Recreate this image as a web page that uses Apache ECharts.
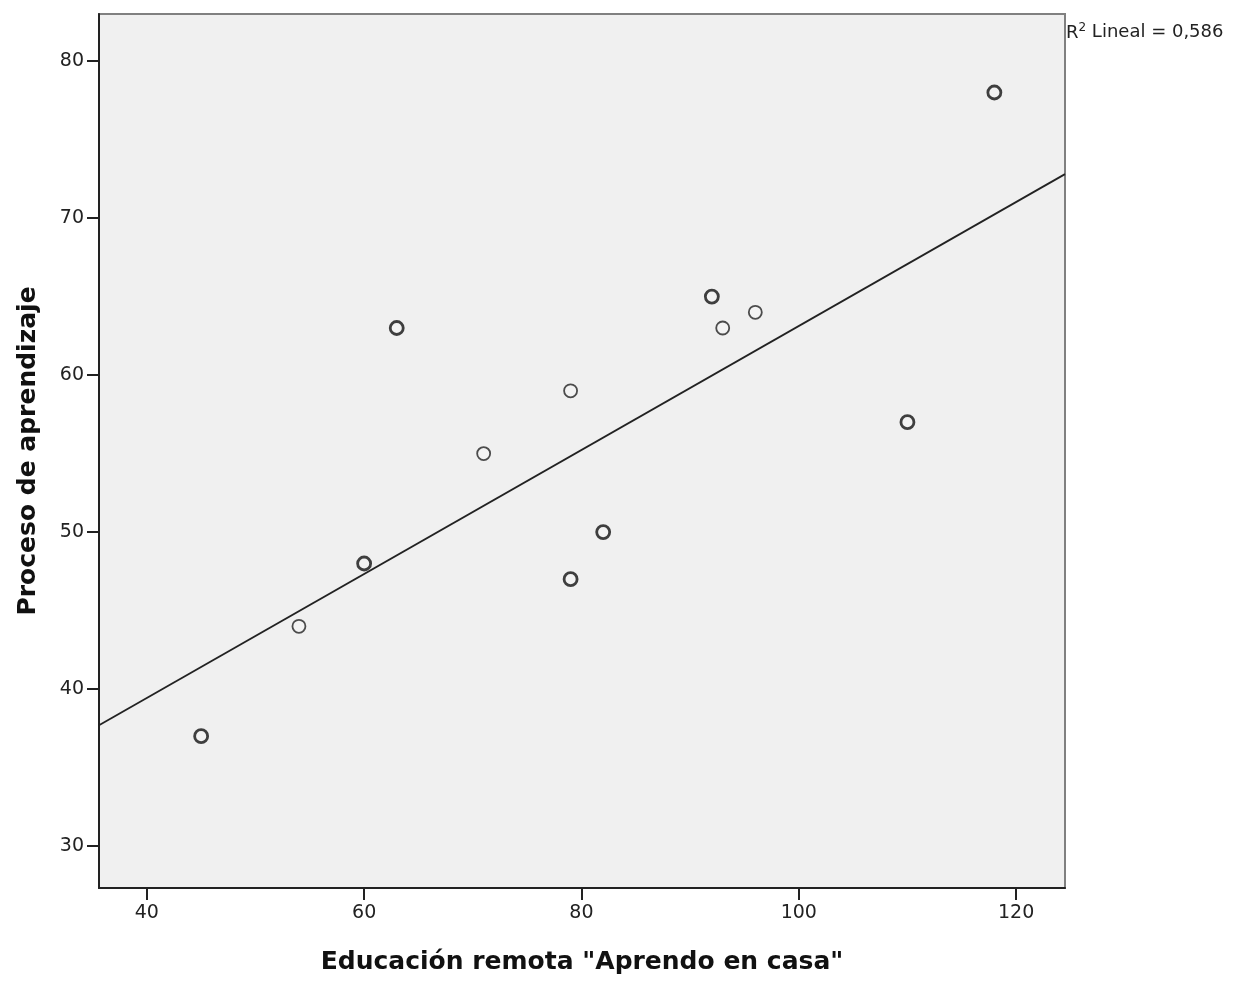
<!DOCTYPE html>
<html>
<head>
<meta charset="utf-8">
<script src="https://cdn.jsdelivr.net/npm/echarts@6/dist/echarts.min.js"></script>
<style>html,body{margin:0;padding:0;background:#fff}#c{width:1251px;height:985px}</style>
</head>
<body>
<div id="c"></div>
<script>
// Single observations
const singleX = [54, 71, 79, 93, 96];
const singleY = [44, 55, 59, 63, 64];
// Repeated observations (drawn with heavier outline)
const repeatX = [45, 60, 63, 79, 82, 92, 110, 118];
const repeatY = [37, 48, 63, 47, 50, 65, 57, 78];
// Fit line endpoints
const fitX = [35.6, 124.5];
const fitY = [37.7, 72.8];
const xTicks = [40, 60, 80, 100, 120];
const yTicks = [30, 40, 50, 60, 70, 80];
const xTitle = 'Educación remota "Aprendo en casa"';
const yTitle = 'Proceso de aprendizaje';
const r2Text = ' Lineal = 0,586';

const pairs = (xs, ys) => xs.map((x, i) => [x, ys[i]]);
const chart = echarts.init(document.getElementById('c'));
const font = '"DejaVu Sans", sans-serif';
chart.setOption({
  animation: false,
  backgroundColor: '#fff',
  grid: { left: 99, right: 186, top: 14, bottom: 97, show: true,
          backgroundColor: '#f0f0f0', borderColor: '#808080', borderWidth: 2 },
  xAxis: {
    type: 'value', min: 35.6, max: 124.5,
    axisLine: { show: true, onZero: false, lineStyle: { color: '#222', width: 2 } },
    axisTick: { show: true, length: 12, lineStyle: { color: '#222', width: 2 }, customValues: xTicks },
    splitLine: { show: false },
    axisLabel: { fontSize: 19, color: '#222', fontFamily: font, margin: 16,
      customValues: xTicks },
    name: xTitle, nameLocation: 'middle', nameGap: 62,
    nameTextStyle: { fontSize: 25, fontWeight: 'bold', color: '#111', fontFamily: font }
  },
  yAxis: {
    type: 'value', min: 27.33, max: 83.0,
    axisLine: { show: true, onZero: false, lineStyle: { color: '#222', width: 2 } },
    splitLine: { show: false },
    axisLabel: { fontSize: 19, color: '#222', fontFamily: font, margin: 15,
      customValues: yTicks },
    axisTick: { show: true, length: 12, lineStyle: { color: '#222', width: 2 }, customValues: yTicks },
    name: yTitle, nameLocation: 'middle', nameGap: 58, nameRotate: 90,
    nameTextStyle: { fontSize: 25, fontWeight: 'bold', color: '#111', fontFamily: font }
  },
  graphic: [{
    type: 'text', left: 1066, top: 22,
    style: {
      text: '{r|R}{s|2}{t|' + r2Text + '}',
      rich: {
        r: { fontSize: 18, fill: '#222', fontFamily: font, verticalAlign: 'bottom' },
        s: { fontSize: 12, fill: '#222', fontFamily: font, verticalAlign: 'top', padding: [0, 0, 8, 0] },
        t: { fontSize: 18, fill: '#222', fontFamily: font }
      }
    }
  }],
  series: [
    { type: 'line', data: pairs(fitX, fitY), symbol: 'none',
      lineStyle: { color: '#222', width: 1.8 }, z: 2 },
    { type: 'scatter', data: pairs(singleX, singleY), symbol: 'circle', symbolSize: 13,
      itemStyle: { color: '#f4f4f4', borderColor: '#222', borderWidth: 1.8 }, z: 3 },
    { type: 'scatter', data: pairs(repeatX, repeatY), symbol: 'circle', symbolSize: 13,
      itemStyle: { color: '#f4f4f4', borderColor: '#111', borderWidth: 2.8 }, z: 3 }
  ]
});
</script>
</body>
</html>
